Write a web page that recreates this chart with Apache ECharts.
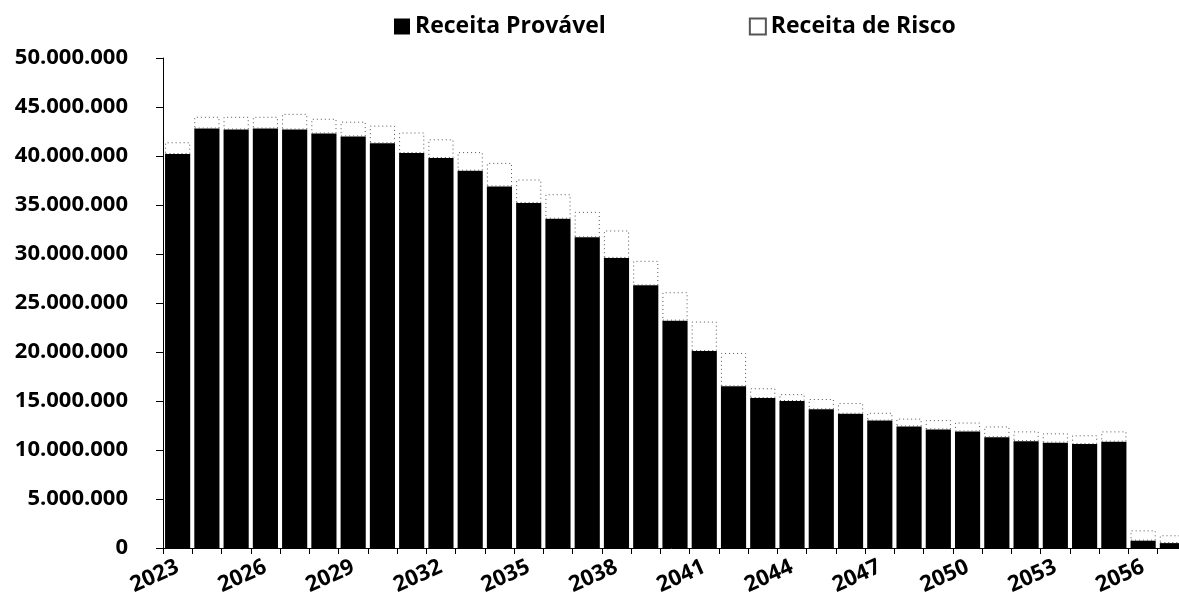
<!DOCTYPE html>
<html>
<head>
<meta charset="utf-8">
<script src="https://cdn.jsdelivr.net/npm/echarts@6/dist/echarts.min.js"></script>
<style>
  html, body { margin: 0; padding: 0; background: #fff; overflow: hidden; }
  #chart { width: 1179px; height: 607px; }
</style>
</head>
<body>
<div id="chart"></div>
<script>
const years = ['2023','2024','2025','2026','2027','2028','2029','2030','2031','2032','2033','2034','2035','2036','2037','2038','2039','2040','2041','2042','2043','2044','2045','2046','2047','2048','2049','2050','2051','2052','2053','2054','2055','2056','2057'];
const receitaProvavel = [40200000,42800000,42700000,42800000,42700000,42300000,42000000,41300000,40300000,39800000,38500000,36900000,35200000,33600000,31700000,29600000,26800000,23200000,20100000,16500000,15300000,15000000,14150000,13700000,13000000,12400000,12100000,11900000,11300000,10900000,10750000,10600000,10850000,750000,500000];
const receitaTotal = [41400000,44000000,44000000,44000000,44300000,43800000,43500000,43100000,42400000,41700000,40400000,39300000,37600000,36100000,34300000,32400000,29300000,26100000,23100000,19900000,16300000,15700000,15200000,14800000,13800000,13200000,13050000,12800000,12400000,11900000,11700000,11500000,11900000,1800000,1300000];
const receitaRisco = receitaTotal.map((t, i) => t - receitaProvavel[i]);
const yTicks = { min: 0, max: 50000000, interval: 5000000 };

const fmt = v => String(Math.round(v)).replace(/\B(?=(\d{3})+(?!\d))/g, '.');
const FONT = '"Open Sans", "Liberation Sans", sans-serif';

const chart = echarts.init(document.getElementById('chart'), null, { renderer: 'canvas' });
chart.setOption({
  animation: false,
  backgroundColor: '#ffffff',
  textStyle: { fontFamily: FONT },
  legend: {
    left: 389,
    top: 10,
    itemWidth: 16,
    itemHeight: 16,
    itemGap: 143,
    icon: 'rect',
    textStyle: { fontFamily: FONT, fontSize: 23, fontWeight: 'bold', color: '#000' },
    data: ['Receita Provável', 'Receita de Risco']
  },
  grid: { left: 163, width: 1024, top: 58, bottom: 59, containLabel: false, outerBoundsMode: 'none' },
  xAxis: {
    type: 'category',
    data: years,
    axisLine: { show: true, lineStyle: { color: '#000', width: 1 } },
    axisTick: { show: true, interval: 0, length: 6, lineStyle: { color: '#000' } },
    axisLabel: {
      interval: 2,
      rotate: 24,
      margin: 18,
      fontFamily: FONT,
      fontSize: 22,
      fontWeight: 'bold',
      color: '#000'
    },
    splitLine: { show: false }
  },
  yAxis: {
    type: 'value',
    min: yTicks.min,
    max: yTicks.max,
    interval: yTicks.interval,
    axisLine: { show: true, lineStyle: { color: '#000', width: 1 } },
    axisTick: { show: true, length: 7, lineStyle: { color: '#000' } },
    axisLabel: {
      margin: 35,
      formatter: fmt,
      fontFamily: FONT,
      fontSize: 22,
      fontWeight: 'bold',
      color: '#000'
    },
    splitLine: { show: false }
  },
  series: [
    {
      name: 'Receita Provável',
      type: 'bar',
      stack: 'total',
      data: receitaProvavel,
      barCategoryGap: '14%',
      itemStyle: { color: '#000000' }
    },
    {
      name: 'Receita de Risco',
      type: 'bar',
      stack: 'total',
      data: receitaRisco,
      barCategoryGap: '14%',
      itemStyle: { color: '#ffffff', borderColor: '#555', borderWidth: 1, borderType: [1, 3] }
    }
  ]
});
</script>
</body>
</html>
